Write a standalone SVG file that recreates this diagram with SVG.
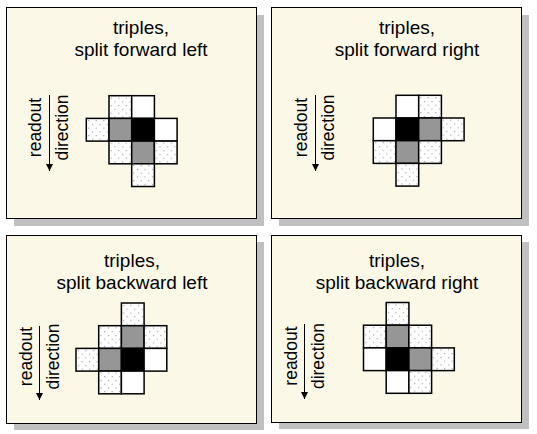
<svg xmlns="http://www.w3.org/2000/svg" width="537" height="434" viewBox="0 0 537 434">
<defs>
<pattern id="dots" width="7.5" height="7.5" patternUnits="userSpaceOnUse">
<rect width="7.5" height="7.5" fill="#ffffff"/>
<rect x="2" y="2" width="1" height="1" fill="#808080"/>
<rect x="5.75" y="5.75" width="1" height="1" fill="#808080"/>
</pattern>
<marker id="ah" viewBox="0 0 8 8" refX="8" refY="4" markerWidth="8" markerHeight="7" markerUnits="userSpaceOnUse" orient="auto">
<path d="M0,0 L8,4 L0,8 Z" fill="#000"/>
</marker>
</defs>
<style>
.shadow{fill:#c0c0c0}
.box{fill:#fbf8e8;stroke:#000;stroke-width:1}
.title{font-family:"Liberation Sans",Arial,sans-serif;font-size:19px;fill:#000;text-anchor:middle}
.side{font-family:"Liberation Sans",Arial,sans-serif;font-size:17.5px;fill:#000;text-anchor:middle}
.c{stroke:#000;stroke-width:1.5}
.W{fill:#ffffff}
.D{fill:url(#dots)}
.G{fill:#969696}
.B{fill:#000000}
.arr{stroke:#000;stroke-width:1;fill:none}
</style>

<g id="panel-forward-left">
<rect class="shadow" x="14" y="15" width="250" height="211"/>
<rect class="box" x="6.5" y="7.5" width="250" height="211"/>
<text class="title" x="141" y="33.5">triples,</text>
<text class="title" x="141" y="55.5">split forward left</text>
<text class="side" transform="translate(41,127.5) rotate(-90)">readout</text>
<text class="side" transform="translate(68,127.5) rotate(-90)">direction</text>
<g transform="translate(86.3,95.7)">
<rect class="c D" x="22.7" y="0" width="22.7" height="22.7"/>
<rect class="c W" x="45.4" y="0" width="22.7" height="22.7"/>
<rect class="c D" x="0" y="22.7" width="22.7" height="22.7"/>
<rect class="c G" x="22.7" y="22.7" width="22.7" height="22.7"/>
<rect class="c B" x="45.4" y="22.7" width="22.7" height="22.7"/>
<rect class="c W" x="68.1" y="22.7" width="22.7" height="22.7"/>
<rect class="c D" x="22.7" y="45.4" width="22.7" height="22.7"/>
<rect class="c G" x="45.4" y="45.4" width="22.7" height="22.7"/>
<rect class="c D" x="68.1" y="45.4" width="22.7" height="22.7"/>
<rect class="c D" x="45.4" y="68.1" width="22.7" height="22.7"/>
</g>
</g>

<g id="panel-forward-right">
<rect class="shadow" x="279" y="15" width="250" height="211"/>
<rect class="box" x="271.5" y="7.5" width="250" height="211"/>
<text class="title" x="407" y="33.5">triples,</text>
<text class="title" x="407" y="55.5">split forward right</text>
<text class="side" transform="translate(306.5,127.5) rotate(-90)">readout</text>
<text class="side" transform="translate(333.5,127.5) rotate(-90)">direction</text>
<g transform="translate(373.3,95.3)">
<rect class="c W" x="22.7" y="0" width="22.7" height="22.7"/>
<rect class="c D" x="45.4" y="0" width="22.7" height="22.7"/>
<rect class="c W" x="0" y="22.7" width="22.7" height="22.7"/>
<rect class="c B" x="22.7" y="22.7" width="22.7" height="22.7"/>
<rect class="c G" x="45.4" y="22.7" width="22.7" height="22.7"/>
<rect class="c D" x="68.1" y="22.7" width="22.7" height="22.7"/>
<rect class="c D" x="0" y="45.4" width="22.7" height="22.7"/>
<rect class="c G" x="22.7" y="45.4" width="22.7" height="22.7"/>
<rect class="c D" x="45.4" y="45.4" width="22.7" height="22.7"/>
<rect class="c D" x="22.7" y="68.1" width="22.7" height="22.7"/>
</g>
</g>

<g id="panel-backward-left">
<rect class="shadow" x="14" y="242" width="250" height="188"/>
<rect class="box" x="6.5" y="235.5" width="250" height="188"/>
<text class="title" x="132" y="266.5">triples,</text>
<text class="title" x="132" y="288.5">split backward left</text>
<text class="side" transform="translate(31.5,356.5) rotate(-90)">readout</text>
<text class="side" transform="translate(59,356.5) rotate(-90)">direction</text>
<g transform="translate(76,303)">
<rect class="c D" x="45.4" y="0" width="22.7" height="22.7"/>
<rect class="c D" x="22.7" y="22.7" width="22.7" height="22.7"/>
<rect class="c G" x="45.4" y="22.7" width="22.7" height="22.7"/>
<rect class="c D" x="68.1" y="22.7" width="22.7" height="22.7"/>
<rect class="c D" x="0" y="45.4" width="22.7" height="22.7"/>
<rect class="c G" x="22.7" y="45.4" width="22.7" height="22.7"/>
<rect class="c B" x="45.4" y="45.4" width="22.7" height="22.7"/>
<rect class="c W" x="68.1" y="45.4" width="22.7" height="22.7"/>
<rect class="c D" x="22.7" y="68.1" width="22.7" height="22.7"/>
<rect class="c W" x="45.4" y="68.1" width="22.7" height="22.7"/>
</g>
</g>

<g id="panel-backward-right">
<rect class="shadow" x="279" y="242" width="250" height="187"/>
<rect class="box" x="271.5" y="235.5" width="250" height="187"/>
<text class="title" x="397" y="266.5">triples,</text>
<text class="title" x="397" y="288.5">split backward right</text>
<text class="side" transform="translate(296.5,356) rotate(-90)">readout</text>
<text class="side" transform="translate(324,356) rotate(-90)">direction</text>
<g transform="translate(363.5,302.5)">
<rect class="c D" x="22.7" y="0" width="22.7" height="22.7"/>
<rect class="c D" x="0" y="22.7" width="22.7" height="22.7"/>
<rect class="c G" x="22.7" y="22.7" width="22.7" height="22.7"/>
<rect class="c D" x="45.4" y="22.7" width="22.7" height="22.7"/>
<rect class="c W" x="0" y="45.4" width="22.7" height="22.7"/>
<rect class="c B" x="22.7" y="45.4" width="22.7" height="22.7"/>
<rect class="c G" x="45.4" y="45.4" width="22.7" height="22.7"/>
<rect class="c D" x="68.1" y="45.4" width="22.7" height="22.7"/>
<rect class="c W" x="22.7" y="68.1" width="22.7" height="22.7"/>
<rect class="c D" x="45.4" y="68.1" width="22.7" height="22.7"/>
</g>
</g>

<g id="connectors">
<line class="arr" x1="49.5" y1="95" x2="49.5" y2="171" marker-end="url(#ah)"/>
<line class="arr" x1="315.5" y1="95" x2="315.5" y2="171" marker-end="url(#ah)"/>
<line class="arr" x1="39.5" y1="326" x2="39.5" y2="400" marker-end="url(#ah)"/>
<line class="arr" x1="304.5" y1="324" x2="304.5" y2="399" marker-end="url(#ah)"/>
</g>
</svg>
